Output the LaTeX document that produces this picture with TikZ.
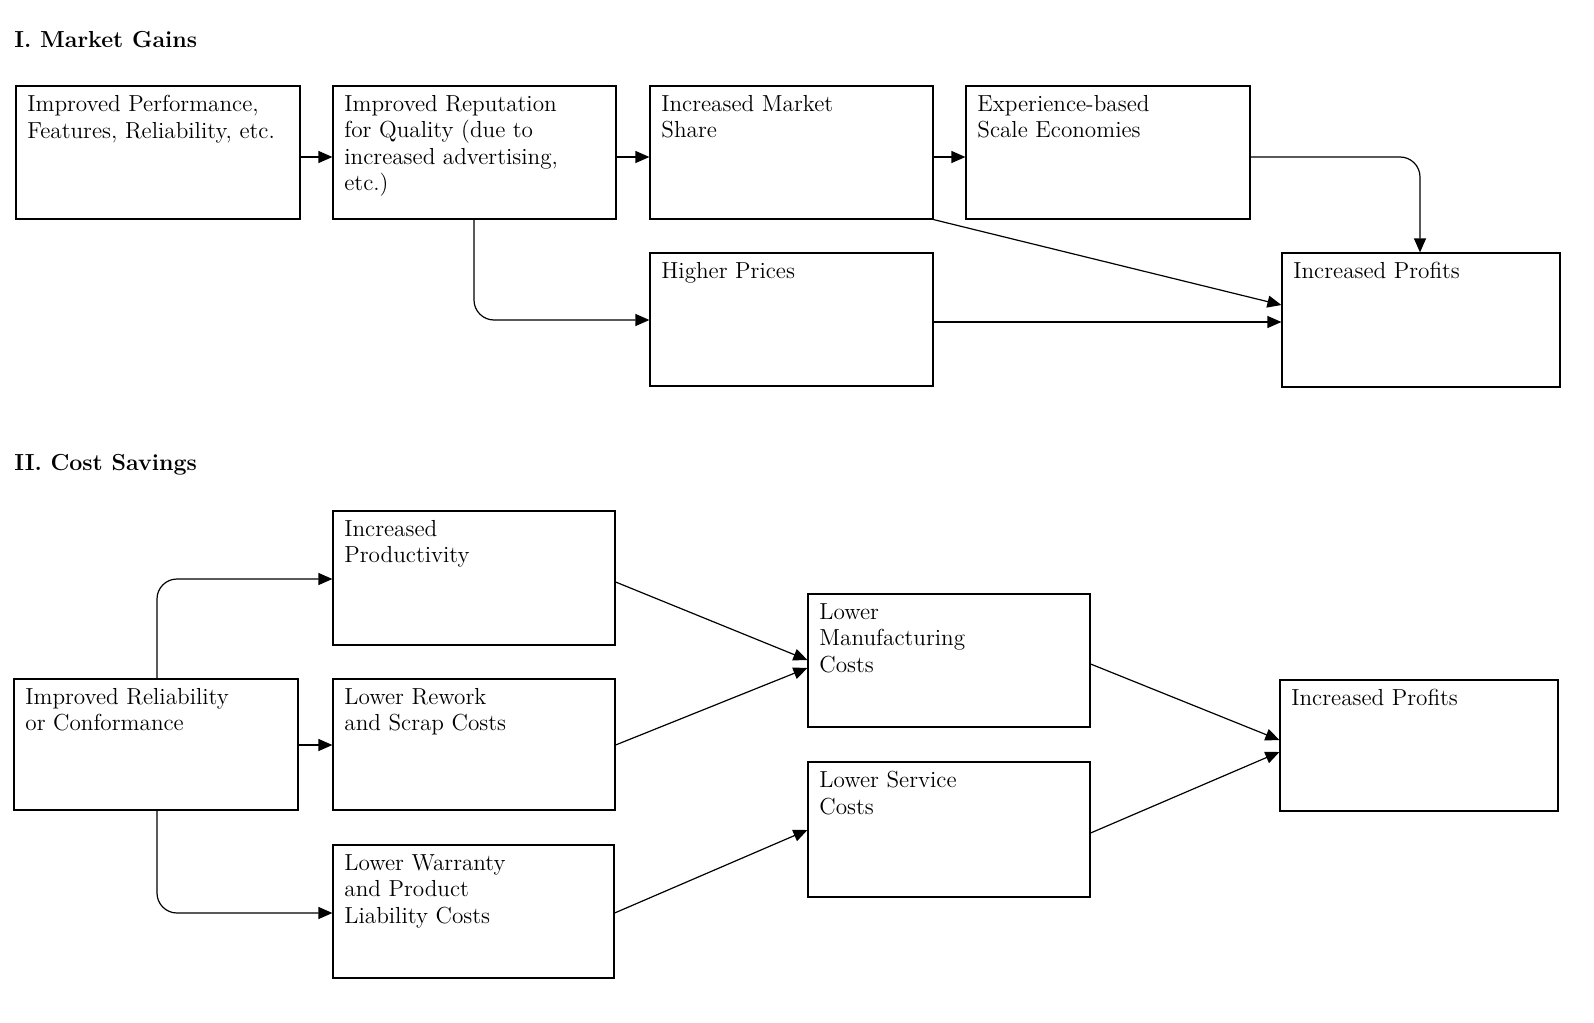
\documentclass[tikz,border=0pt]{standalone}
\usetikzlibrary{arrows.meta}
\begin{document}
\begin{tikzpicture}[x=0.5pt,y=-0.5pt,
  box/.style={draw,line width=0.6pt,inner sep=0pt},
  txt/.style={anchor=north west,align=left,inner sep=0pt,font=\fontsize{11.6}{13.2}\selectfont},
  arr/.style={-{Triangle[length=7pt,width=6pt]},line width=0.6pt,rounded corners=10pt}]
\newcommand\bx[6]{%
  \node[box,minimum width={(#4-#2)*0.5pt},minimum height={(#5-#3)*0.5pt}] (#1) at ({(#2+#4)/2},{(#3+#5)/2}) {};
  \node[txt] (#1t) at (#2+11,#3+9) {#6};}
\node[anchor=west,inner sep=0pt,font=\bfseries\fontsize{11.6}{13}\selectfont] (t1) at (14,40) {I. Market Gains};
\node[anchor=west,inner sep=0pt,font=\bfseries\fontsize{11.6}{13}\selectfont] (t2) at (14,465) {II. Cost Savings};
\bx{a}{16}{86}{300}{219}{Improved Performance,\\Features, Reliability, etc.}
\bx{b}{333}{86}{616}{219}{Improved Reputation\\for Quality (due to\\increased advertising,\\etc.)}
\bx{c}{650}{86}{933}{219}{Increased Market\\Share}
\bx{d}{966}{86}{1250}{219}{Experience-based\\Scale Economies}
\bx{hp}{650}{253}{933}{386}{Higher Prices}
\bx{p1}{1282}{253}{1560}{387}{Increased Profits}
\bx{ir}{14}{679}{298}{810}{Improved Reliability\\or Conformance}
\bx{ip}{333}{511}{615}{645}{Increased\\Productivity}
\bx{rw}{333}{679}{615}{810}{Lower Rework\\and Scrap Costs}
\bx{wa}{333}{845}{614}{978}{Lower Warranty\\and Product\\Liability Costs}
\bx{lm}{808}{594}{1090}{727}{Lower\\Manufacturing\\Costs}
\bx{ls}{808}{762}{1090}{897}{Lower Service\\Costs}
\bx{p2}{1280}{680}{1558}{811}{Increased Profits}
\draw[arr] (a.east|-0,157) -- (b.west|-0,157);
\draw[arr] (b.east|-0,157) -- (c.west|-0,157);
\draw[arr] (c.east|-0,157) -- (d.west|-0,157);
\draw[arr] (d.east|-0,157) -| (p1.north-|1420,0);
\draw[arr] (c.south east) -- (p1.west|-0,305);
\draw[arr] (hp.east|-0,322) -- (p1.west|-0,322);
\draw[arr] (b.south-|474,0) |- (hp.west|-0,320);
\draw[arr] (ir.north-|157,0) |- (ip.west|-0,579);
\draw[arr] (ir.east|-0,745) -- (rw.west|-0,745);
\draw[arr] (ir.south-|157,0) |- (wa.west|-0,913);
\draw[arr] (ip.east|-0,582) -- (lm.west|-0,660);
\draw[arr] (rw.east|-0,745) -- (lm.west|-0,668);
\draw[arr] (wa.east|-0,913) -- (ls.west|-0,830);
\draw[arr] (lm.east|-0,664) -- (p2.west|-0,740);
\draw[arr] (ls.east|-0,833) -- (p2.west|-0,752);
\pgfresetboundingbox
\useasboundingbox (0,0) rectangle (1594,1022);
\end{tikzpicture}
\end{document}
